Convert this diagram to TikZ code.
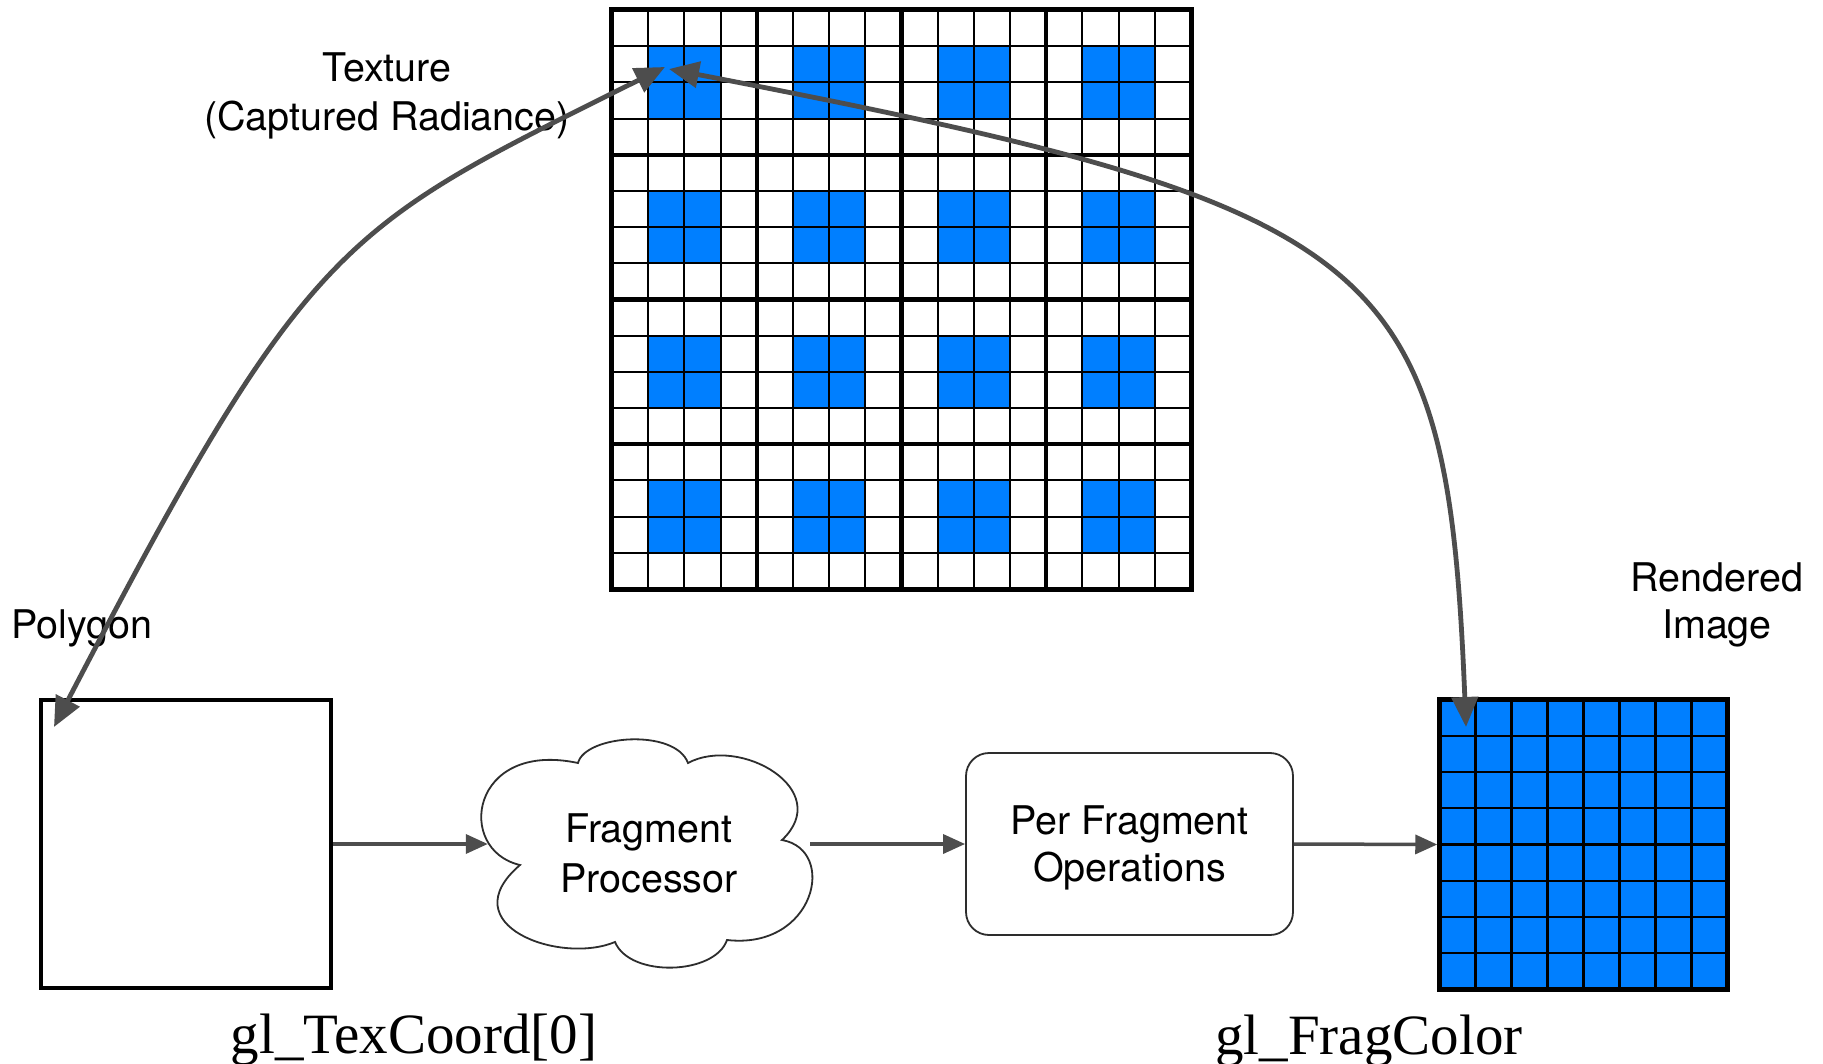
\documentclass[tikz,border=0pt]{standalone}
\usepackage{fontspec}
\setmainfont{TeX Gyre Heros}
\newfontfamily\glfont{Liberation Serif}
\usetikzlibrary{arrows.meta}
\definecolor{pixblue}{RGB}{0,127,255}
\definecolor{arrowgray}{RGB}{77,77,77}
\definecolor{edgegray}{RGB}{45,45,45}

\begin{document}
\begin{tikzpicture}[x=1pt,y=-1pt,
  lbl/.style={anchor=base,inner sep=0pt,font=\fontsize{39.5}{48}\selectfont},
  gllbl/.style={anchor=base,inner sep=0pt,font=\glfont\fontsize{57}{60}\selectfont},
  frame/.style={draw=black,line width=4.5pt,inner sep=0pt},
  linkarrow/.style={draw=arrowgray,line width=3.5pt,-{Triangle[length=22pt,width=19pt]}},
  maparrow/.style={draw=arrowgray,line width=4.8pt,{Triangle[length=30pt,width=26pt]}-{Triangle[length=30pt,width=26pt]}},
  thingrid/.style={draw=black,line width=2pt},
  thickgrid/.style={draw=black,line width=4.2pt},
]
\useasboundingbox (0,0) rectangle (1823,1064);
\fill[white] (0,0) rectangle (1823,1064);

% texture atlas: 4x4 blocks of 4x4 texels, centre 2x2 of each block filled
\def\tx{612}\def\ty{10}\def\tc{36.1875}
\node[inner sep=0pt,minimum size=579] (tex) at (901.5,299.5) {};
\foreach \bi in {0,...,3}
  \foreach \bj in {0,...,3}
    \fill[pixblue] ({\tx+(4*\bi+1)*\tc},{\ty+(4*\bj+1)*\tc}) rectangle ++({2*\tc},{2*\tc});
\foreach \k in {0,...,16} {
  \draw[thingrid] ({\tx+\k*\tc},\ty) -- ({\tx+\k*\tc},{\ty+16*\tc});
  \draw[thingrid] (\tx,{\ty+\k*\tc}) -- ({\tx+16*\tc},{\ty+\k*\tc});
}
\foreach \k in {4,8,12} {
  \draw[thickgrid] ({\tx+\k*\tc},\ty) -- ({\tx+\k*\tc},{\ty+16*\tc});
  \draw[thickgrid] (\tx,{\ty+\k*\tc}) -- ({\tx+16*\tc},{\ty+\k*\tc});
}
\draw[draw=black,line width=4.8pt] (tex.north west) rectangle (tex.south east);

% polygon
\node[frame,minimum width=290,minimum height=288] (poly) at (186,844) {};

% fragment processor cloud
\draw[edgegray,line width=1.8pt,fill=white]
  (520,865) .. controls (455,850) and (470,740) .. (578,763)
  .. controls (585,735) and (675,728) .. (688,763)
  .. controls (740,735) and (835,790) .. (782,840)
  .. controls (838,850) and (815,950) .. (727,940)
  .. controls (715,975) and (630,978) .. (615,942)
  .. controls (560,965) and (450,925) .. cycle;
\node[align=center,inner sep=0pt,minimum width=322,minimum height=230,
      font=\fontsize{39.5}{50}\selectfont] (fp) at (649,853) {Fragment\\Processor};

% per fragment operations
\node[draw=edgegray,line width=1.8pt,rounded corners=23pt,minimum width=327,
      minimum height=182,align=center,inner sep=0pt,
      font=\fontsize{39.5}{47}\selectfont] (pfo) at (1129.5,844)
      {\rule{0pt}{36.5pt}Per Fragment\\Operations};

% rendered image: 8x8 filled pixels
\node[frame,fill=pixblue,minimum width=288,minimum height=290] (rimg) at (1583.5,844.5) {};
\foreach \k in {1,...,7} {
  \draw[line width=2.2pt] ({1439.5+\k*36},699.5) -- ({1439.5+\k*36},989.5);
  \draw[line width=2.2pt] (1439.5,{699.5+\k*36.25}) -- (1727.5,{699.5+\k*36.25});
}
\draw[line width=5pt] (1439.5,699.5) rectangle (1727.5,989.5);

% labels
\node[lbl] (texlblA) at (387,82) {Texture};
\node[lbl] (texlblB) at (387,131) {(Captured Radiance)};
\node[lbl] (polylbl) at (82,638) {Polygon};
\node[lbl] (rendlblA) at (1717,591) {Rendered};
\node[lbl] (rendlblB) at (1717,638) {Image};
\node[gllbl] (gltc) at (414,1053) {gl\_TexCoord[0]};
\node[gllbl] (glfc) at (1369,1054) {gl\_FragColor};

% texture lookups
\coordinate (texA) at (665,67);
\coordinate (texB) at (669,69);
\coordinate (polyC) at (54,727);
\coordinate (rendC) at (1466,727);
\draw[maparrow] (texA) .. controls (342,228) and (311,233) .. (polyC);
\draw[maparrow] (texB) .. controls (1390,208) and (1447,256) .. (rendC);

% pipeline
\draw[linkarrow] (poly.east) -- (fp.west |- poly.east);
\draw[linkarrow] (fp.east |- poly.east) -- (pfo.west);
\draw[linkarrow] (pfo.east) -- (rimg.west);
\end{tikzpicture}
\end{document}
